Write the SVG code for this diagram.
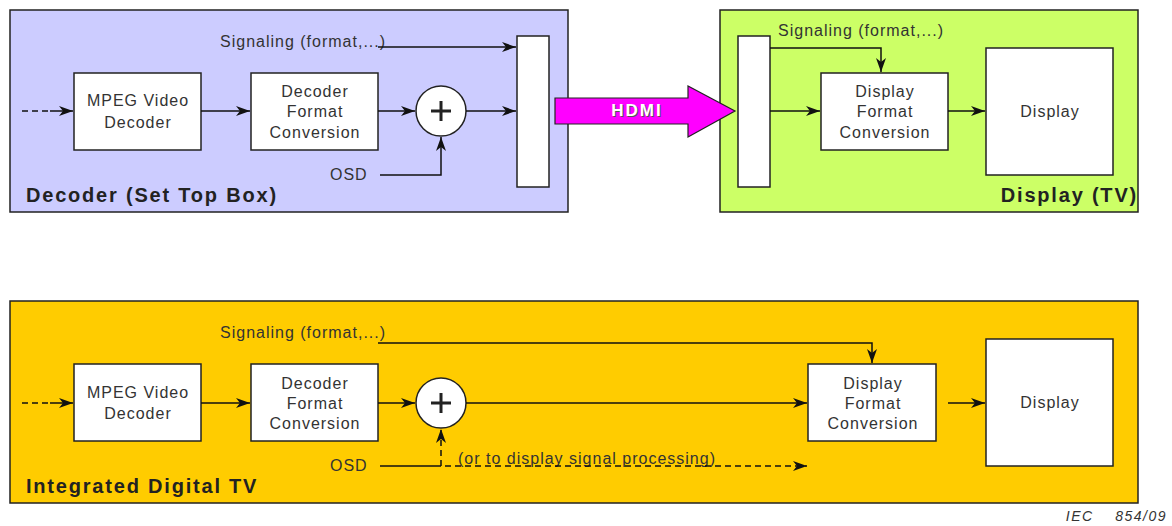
<svg xmlns="http://www.w3.org/2000/svg" width="1172" height="526" viewBox="0 0 1172 526">
<style>
.panel{stroke:#222;stroke-width:1.5}
.box{fill:#fff;stroke:#222;stroke-width:1.5}
.t{font-family:"Liberation Sans",Arial,sans-serif;font-size:16px;fill:#333;letter-spacing:1px}
.tc{text-anchor:middle}
.title{font-family:"Liberation Sans",Arial,sans-serif;font-size:20px;font-weight:bold;fill:#222;letter-spacing:1.8px}
.ln{fill:none;stroke:#111;stroke-width:1.5}
.dash{stroke-dasharray:6,4}
.plus{stroke:#222;stroke-width:3}
</style>
<defs>
<marker id="ah" viewBox="0 0 14 10" refX="14" refY="5" markerWidth="14" markerHeight="10" markerUnits="userSpaceOnUse" orient="auto">
<path d="M0,0 L14,5 L0,10 L4,5 z" fill="#111"/>
</marker>
</defs>
<g id="panel-stb">
<rect class="panel" x="10" y="10" width="558" height="202" fill="#ccccff"/>
<text class="title" x="26" y="202">Decoder (Set Top Box)</text>
</g>
<g id="panel-tv">
<rect class="panel" x="720" y="10" width="418" height="202" fill="#ccff66"/>
<text class="title" x="1138" y="202" text-anchor="end">Display (TV)</text>
</g>
<g id="panel-idtv">
<rect class="panel" x="10" y="301" width="1128" height="202" fill="#ffcc00"/>
<text class="title" x="26" y="493">Integrated Digital TV</text>
</g>
<g id="stb-mpeg"><rect class="box" x="74" y="73" width="127" height="77"/>
<text class="t tc" x="138" y="106">MPEG Video</text><text class="t tc" x="138" y="128">Decoder</text></g>
<g id="stb-dfc"><rect class="box" x="251" y="73" width="127" height="77"/>
<text class="t tc" x="315" y="97">Decoder</text><text class="t tc" x="315" y="117">Format</text><text class="t tc" x="315" y="138">Conversion</text></g>
<g id="stb-sum"><circle class="box" cx="441" cy="111" r="25"/><path class="plus" d="M431,111 H451 M441,101 V121"/></g>
<g id="stb-port"><rect class="box" x="517" y="36" width="32" height="151"/></g>
<g id="stb-labels"><text class="t" x="220" y="47">Signaling (format,...)</text><text class="t" x="330" y="180">OSD</text></g>
<g id="hdmi">
<path d="M555,98 H688 V86 L735,111 L688,137 V124 H555 z" fill="#ff00ff" stroke="#222" stroke-width="1.2"/>
<text x="638" y="117" text-anchor="middle" font-family="'Liberation Sans',Arial,sans-serif" font-size="17" font-weight="bold" fill="#555" letter-spacing="2">HDMI</text>
<text x="637" y="116" text-anchor="middle" font-family="'Liberation Sans',Arial,sans-serif" font-size="17" font-weight="bold" fill="#fff" letter-spacing="2">HDMI</text>
</g>
<g id="tv-port"><rect class="box" x="738" y="36" width="32" height="151"/></g>
<g id="tv-dfc"><rect class="box" x="821" y="73" width="127" height="77"/>
<text class="t tc" x="885" y="97">Display</text><text class="t tc" x="885" y="117">Format</text><text class="t tc" x="885" y="138">Conversion</text></g>
<g id="tv-display"><rect class="box" x="986" y="48" width="127" height="127"/><text class="t tc" x="1050" y="117">Display</text></g>
<g id="tv-labels"><text class="t" x="778" y="36">Signaling (format,...)</text></g>
<g id="idtv-mpeg"><rect class="box" x="74" y="364" width="127" height="77"/>
<text class="t tc" x="138" y="398">MPEG Video</text><text class="t tc" x="138" y="419">Decoder</text></g>
<g id="idtv-dfc"><rect class="box" x="251" y="364" width="127" height="77"/>
<text class="t tc" x="315" y="389">Decoder</text><text class="t tc" x="315" y="409">Format</text><text class="t tc" x="315" y="429">Conversion</text></g>
<g id="idtv-sum"><circle class="box" cx="441" cy="403" r="25"/><path class="plus" d="M431,403 H451 M441,393 V413"/></g>
<g id="idtv-ddfc"><rect class="box" x="808" y="364" width="128" height="77"/>
<text class="t tc" x="873" y="389">Display</text><text class="t tc" x="873" y="409">Format</text><text class="t tc" x="873" y="429">Conversion</text></g>
<g id="idtv-display"><rect class="box" x="986" y="339" width="127" height="127"/><text class="t tc" x="1050" y="408">Display</text></g>
<g id="idtv-labels"><text class="t" x="220" y="338">Signaling (format,...)</text><text class="t" x="330" y="471">OSD</text>
<text class="t" x="458" y="464">(or to display signal processing)</text></g>
<g id="connectors">
<path class="ln dash" d="M22,111 H52"/><path class="ln" d="M50,111 H73" marker-end="url(#ah)"/>
<path class="ln" d="M201,111 H250" marker-end="url(#ah)"/>
<path class="ln" d="M378,111 H415" marker-end="url(#ah)"/>
<path class="ln" d="M466,111 H516" marker-end="url(#ah)"/>
<path class="ln" d="M380,175 H441 V137" marker-end="url(#ah)"/>
<path class="ln" d="M378,47 H516" marker-end="url(#ah)"/>
<path class="ln" d="M770,48 H881 V72" marker-end="url(#ah)"/>
<path class="ln" d="M770,111 H820" marker-end="url(#ah)"/>
<path class="ln" d="M948,111 H985" marker-end="url(#ah)"/>
<path class="ln dash" d="M22,403 H52"/><path class="ln" d="M50,403 H73" marker-end="url(#ah)"/>
<path class="ln" d="M201,403 H250" marker-end="url(#ah)"/>
<path class="ln" d="M378,403 H415" marker-end="url(#ah)"/>
<path class="ln" d="M466,403 H807" marker-end="url(#ah)"/>
<path class="ln" d="M378,343 H872 V363" marker-end="url(#ah)"/>
<path class="ln" d="M380,466 H441"/>
<path class="ln dash" d="M441,466 V429" marker-end="url(#ah)"/>
<path class="ln dash" d="M445,466 H807" marker-end="url(#ah)"/>
<path class="ln" d="M948,403 H985" marker-end="url(#ah)"/>
</g>
<text x="1167" y="521" text-anchor="end" font-family="'Liberation Sans',Arial,sans-serif" font-size="14" font-style="italic" fill="#333" letter-spacing="1.5" xml:space="preserve">IEC    854/09</text>
</svg>
